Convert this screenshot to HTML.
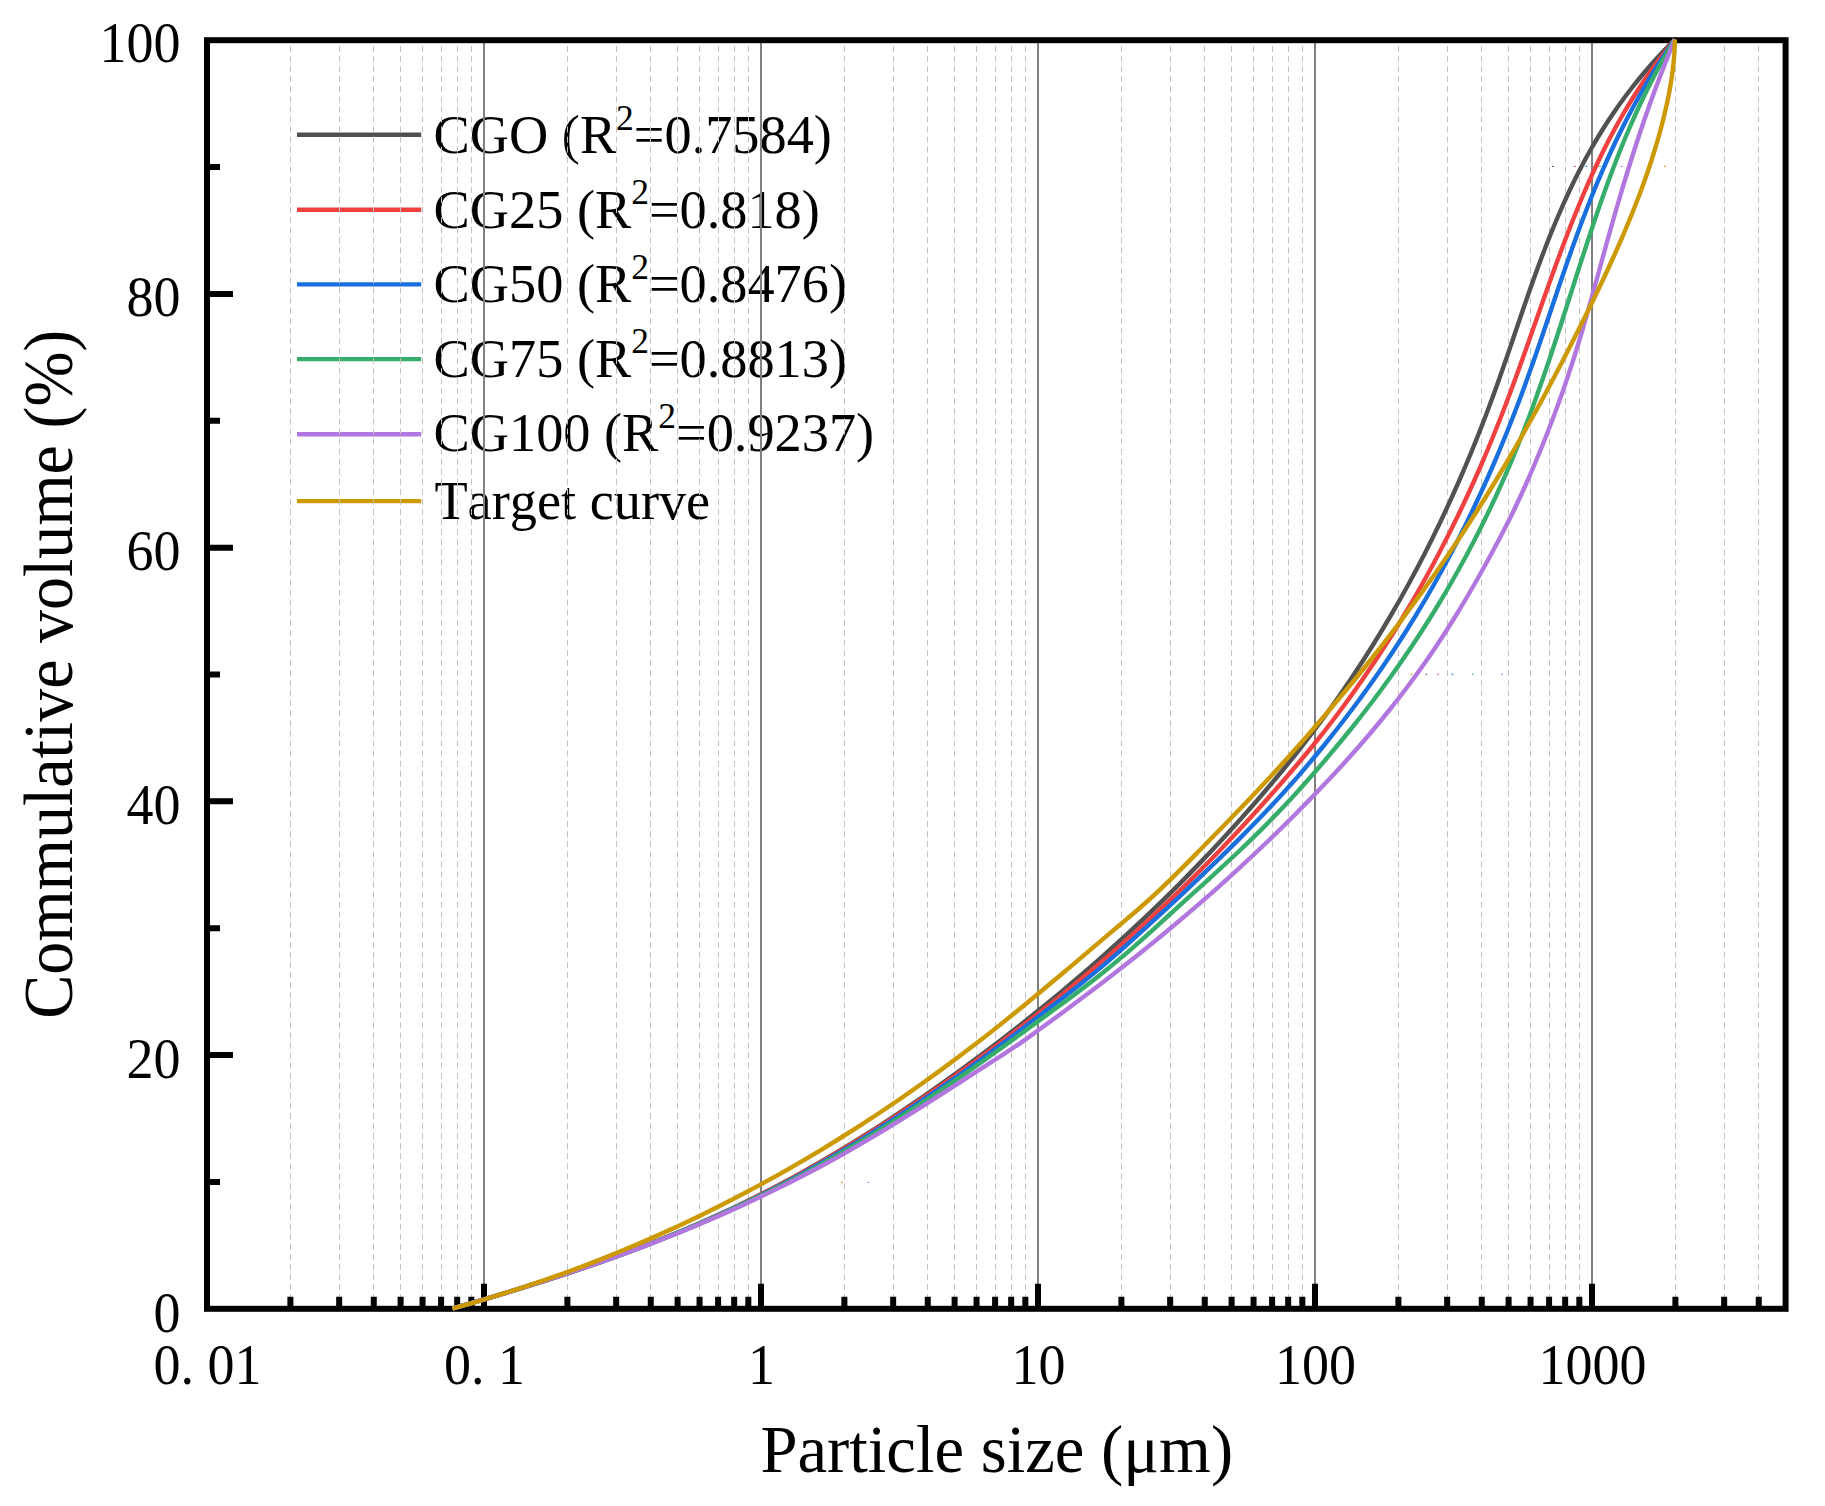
<!DOCTYPE html>
<html lang="en"><head><meta charset="utf-8"><title>Particle size distribution</title>
<style>html,body{margin:0;padding:0;background:#fff}svg{display:block}text{font-kerning:none;font-family:"Liberation Serif","Times New Roman",serif;fill:#000}</style></head><body>
<svg width="1825" height="1506" viewBox="0 0 1825 1506">
<rect width="1825" height="1506" fill="#fff"/>
<path d="M297 134.8H421.2" stroke="#515151" stroke-width="4.4" fill="none"/>
<text x="433.6" y="153.0" font-size="54.3">CGO (R<tspan dy="-23.5" font-size="35.5">2</tspan><tspan dy="23.5">=0.7584)</tspan></text>
<path d="M297 209.7H421.2" stroke="#F14040" stroke-width="4.4" fill="none"/>
<text x="433.6" y="227.5" font-size="54.3">CG25 (R<tspan dy="-23.5" font-size="35.5">2</tspan><tspan dy="23.5">=0.818)</tspan></text>
<path d="M297 284.4H421.2" stroke="#1A6FDF" stroke-width="4.4" fill="none"/>
<text x="433.6" y="302.0" font-size="54.3">CG50 (R<tspan dy="-23.5" font-size="35.5">2</tspan><tspan dy="23.5">=0.8476)</tspan></text>
<path d="M297 359.1H421.2" stroke="#37AD6B" stroke-width="4.4" fill="none"/>
<text x="433.6" y="376.5" font-size="54.3">CG75 (R<tspan dy="-23.5" font-size="35.5">2</tspan><tspan dy="23.5">=0.8813)</tspan></text>
<path d="M297 434.3H421.2" stroke="#B177DE" stroke-width="4.4" fill="none"/>
<text x="433.6" y="451.0" font-size="54.3">CG100 (R<tspan dy="-23.5" font-size="35.5">2</tspan><tspan dy="23.5">=0.9237)</tspan></text>
<path d="M297 501.1H421.2" stroke="#CC9900" stroke-width="4.4" fill="none"/>
<text x="434.4" y="519.1" font-size="54.3">Target curve</text>
<path d="M290.5 46V1308.8M339.5 46V1308.8M373.5 46V1308.8M400.5 46V1308.8M422.5 46V1308.8M441.5 46V1308.8M457.5 46V1308.8M471.5 46V1308.8M567.5 46V1308.8M616.5 46V1308.8M650.5 46V1308.8M677.5 46V1308.8M699.5 46V1308.8M718.5 46V1308.8M734.5 46V1308.8M748.5 46V1308.8M844.5 46V1308.8M893.5 46V1308.8M927.5 46V1308.8M954.5 46V1308.8M976.5 46V1308.8M995.5 46V1308.8M1011.5 46V1308.8M1025.5 46V1308.8M1121.5 46V1308.8M1170.5 46V1308.8M1204.5 46V1308.8M1231.5 46V1308.8M1253.5 46V1308.8M1272.5 46V1308.8M1288.5 46V1308.8M1302.5 46V1308.8M1398.5 46V1308.8M1447.5 46V1308.8M1481.5 46V1308.8M1508.5 46V1308.8M1530.5 46V1308.8M1549.5 46V1308.8M1565.5 46V1308.8M1579.5 46V1308.8M1675.5 46V1308.8M1724.5 46V1308.8M1758.5 46V1308.8" stroke="#c2c2c2" stroke-width="1" stroke-dasharray="6 4.066" fill="none"/>
<path d="M484.00 40.2V1308.8M761.00 40.2V1308.8M1038.00 40.2V1308.8M1315.00 40.2V1308.8M1592.00 40.2V1308.8" stroke="#808080" stroke-width="2" fill="none"/>
<rect x="207.0" y="40.2" width="1578.6" height="1268.6" fill="none" stroke="#000" stroke-width="6.0"/>
<path d="M290.39 1308.8v-12M339.16 1308.8v-12M373.77 1308.8v-12M400.61 1308.8v-12M422.55 1308.8v-12M441.09 1308.8v-12M457.16 1308.8v-12M471.33 1308.8v-12M484.00 1308.8v-25M567.39 1308.8v-12M616.16 1308.8v-12M650.77 1308.8v-12M677.61 1308.8v-12M699.55 1308.8v-12M718.09 1308.8v-12M734.16 1308.8v-12M748.33 1308.8v-12M761.00 1308.8v-25M844.39 1308.8v-12M893.16 1308.8v-12M927.77 1308.8v-12M954.61 1308.8v-12M976.55 1308.8v-12M995.09 1308.8v-12M1011.16 1308.8v-12M1025.33 1308.8v-12M1038.00 1308.8v-25M1121.39 1308.8v-12M1170.16 1308.8v-12M1204.77 1308.8v-12M1231.61 1308.8v-12M1253.55 1308.8v-12M1272.09 1308.8v-12M1288.16 1308.8v-12M1302.33 1308.8v-12M1315.00 1308.8v-25M1398.39 1308.8v-12M1447.16 1308.8v-12M1481.77 1308.8v-12M1508.61 1308.8v-12M1530.55 1308.8v-12M1549.09 1308.8v-12M1565.16 1308.8v-12M1579.33 1308.8v-12M1592.00 1308.8v-25M1675.39 1308.8v-12M1724.16 1308.8v-12M1758.77 1308.8v-12M207.0 1181.94h13.0M207.0 1055.08h26.0M207.0 928.22h13.0M207.0 801.36h26.0M207.0 674.50h13.0M207.0 547.64h26.0M207.0 420.78h13.0M207.0 293.92h26.0M207.0 167.06h13.0" stroke="#000" stroke-width="6.0" fill="none"/>
<path d="M452.50 1308.50C455.00 1307.78 456.90 1307.23 460.00 1306.33C465.06 1304.86 473.34 1302.46 480.00 1300.49C486.67 1298.52 493.34 1296.54 500.00 1294.53C506.67 1292.52 513.34 1290.50 520.00 1288.45C526.67 1286.39 533.34 1284.31 540.00 1282.20C546.67 1280.08 553.34 1277.94 560.00 1275.76C566.67 1273.57 573.34 1271.36 580.00 1269.10C586.67 1266.84 593.34 1264.54 600.00 1262.20C606.67 1259.85 613.34 1257.46 620.00 1255.02C626.67 1252.57 633.34 1250.08 640.00 1247.54C646.68 1244.99 653.34 1242.39 660.00 1239.73C666.68 1237.06 673.34 1234.34 680.00 1231.56C686.68 1228.77 693.35 1225.92 700.00 1223.01C706.68 1220.09 713.35 1217.10 720.00 1214.05C726.68 1210.98 733.35 1207.86 740.00 1204.65C746.68 1201.43 753.35 1198.13 760.00 1194.77C766.68 1191.39 773.35 1187.94 780.00 1184.41C786.68 1180.87 793.35 1177.25 800.00 1173.56C806.68 1169.86 813.35 1166.08 820.00 1162.24C826.68 1158.38 833.35 1154.45 840.00 1150.45C846.68 1146.43 853.35 1142.35 860.00 1138.20C866.68 1134.03 873.35 1129.80 880.00 1125.51C886.68 1121.20 893.35 1116.82 900.00 1112.39C906.68 1107.93 913.35 1103.41 920.00 1098.84C926.68 1094.24 933.35 1089.59 940.00 1084.88C946.68 1080.15 953.35 1075.37 960.00 1070.53C966.68 1065.67 973.35 1060.75 980.00 1055.78C986.68 1050.79 993.35 1045.74 1000.00 1040.65C1006.68 1035.53 1013.35 1030.37 1020.00 1025.14C1026.68 1019.89 1033.35 1014.59 1040.00 1009.22C1046.69 1003.82 1053.35 998.37 1060.00 992.85C1066.69 987.30 1073.35 981.68 1080.00 976.00C1086.69 970.28 1093.36 964.49 1100.00 958.63C1106.69 952.73 1113.36 946.77 1120.00 940.72C1126.69 934.63 1133.36 928.46 1140.00 922.22C1146.69 915.93 1153.36 909.56 1160.00 903.11C1166.69 896.60 1173.36 890.01 1180.00 883.34C1186.70 876.61 1193.36 869.79 1200.00 862.89C1206.70 855.93 1213.38 848.86 1220.00 841.73C1226.65 834.56 1234.52 825.87 1239.80 820.00C1243.36 816.04 1245.73 813.34 1248.67 810.00C1251.60 806.67 1254.51 803.34 1257.41 800.00C1260.30 796.67 1263.17 793.34 1266.02 790.00C1268.86 786.67 1271.68 783.34 1274.48 780.00C1277.27 776.67 1280.05 773.34 1282.81 770.00C1285.55 766.67 1288.28 763.34 1290.98 760.00C1293.67 756.67 1296.34 753.34 1298.99 750.00C1301.63 746.67 1304.24 743.34 1306.83 740.00C1309.41 736.67 1311.97 733.34 1314.50 730.00C1317.02 726.67 1319.52 723.34 1321.99 720.00C1324.45 716.67 1326.88 713.34 1329.29 710.00C1331.69 706.67 1334.07 703.34 1336.42 700.00C1338.76 696.67 1340.85 693.68 1343.38 690.00C1346.46 685.51 1350.21 680.01 1353.55 675.00C1356.88 670.01 1360.15 665.01 1363.39 660.00C1366.61 655.01 1369.79 650.01 1372.92 645.00C1376.04 640.01 1379.12 635.01 1382.15 630.00C1385.17 625.01 1388.15 620.01 1391.08 615.00C1394.00 610.01 1396.87 605.01 1399.71 600.00C1402.54 595.01 1405.32 590.01 1408.07 585.00C1410.81 580.01 1413.50 575.01 1416.16 570.00C1418.81 565.01 1421.42 560.01 1423.99 555.00C1426.55 550.01 1429.07 545.01 1431.56 540.00C1434.04 535.01 1436.48 530.01 1438.89 525.00C1441.29 520.01 1443.65 515.01 1445.98 510.00C1448.30 505.01 1450.59 500.01 1452.84 495.00C1455.09 490.01 1457.30 485.01 1459.48 480.00C1461.66 475.01 1463.81 470.01 1465.92 465.00C1468.03 460.01 1470.10 455.01 1472.15 450.00C1474.19 445.01 1476.20 440.01 1478.19 435.00C1480.17 430.01 1482.12 425.01 1484.05 420.00C1485.97 415.01 1488.36 408.66 1489.73 405.00C1490.52 402.89 1490.84 402.03 1491.58 400.00C1492.73 396.86 1494.52 392.00 1495.96 388.00C1497.40 384.00 1498.83 380.00 1500.24 376.00C1501.65 372.00 1503.05 368.00 1504.44 364.00C1505.83 360.00 1507.20 356.00 1508.57 352.00C1509.94 348.00 1511.31 344.00 1512.67 340.00C1514.03 336.00 1515.38 332.00 1516.74 328.00C1518.10 324.00 1519.46 320.00 1520.82 316.00C1522.19 312.00 1523.55 308.00 1524.93 304.00C1526.31 300.00 1527.70 296.00 1529.10 292.00C1530.50 288.00 1531.91 284.00 1533.34 280.00C1534.77 276.00 1536.21 272.00 1537.67 268.00C1539.14 264.00 1540.62 260.00 1542.13 256.00C1543.64 252.00 1545.17 248.00 1546.73 244.00C1548.29 240.00 1549.88 235.99 1551.50 232.00C1553.12 227.99 1554.77 223.99 1556.46 220.00C1558.15 215.99 1559.87 211.99 1561.63 208.00C1563.40 203.99 1565.20 199.99 1567.04 196.00C1568.89 191.99 1570.77 187.99 1572.70 184.00C1574.64 179.99 1576.63 175.99 1578.66 172.00C1580.71 167.99 1582.79 163.99 1584.94 160.00C1587.10 155.99 1589.32 151.99 1591.60 148.00C1593.89 143.99 1596.23 139.98 1598.65 136.00C1601.09 131.98 1603.59 127.98 1606.16 124.00C1608.75 119.98 1611.41 115.98 1614.14 112.00C1616.90 107.98 1619.74 103.98 1622.65 100.00C1625.60 95.98 1628.62 91.98 1631.72 88.00C1634.86 83.98 1638.08 79.97 1641.39 76.00C1644.74 71.97 1648.18 67.97 1651.70 64.00C1655.27 59.97 1658.94 55.97 1662.69 52.00C1666.50 47.97 1673.05 41.35 1674.39 40.00C1674.66 39.72 1674.72 39.67 1674.89 39.50" stroke="#515151" stroke-width="4.4" fill="none" stroke-linejoin="round"/>
<path d="M452.50 1308.50C455.00 1307.78 456.90 1307.24 460.00 1306.35C465.06 1304.89 473.34 1302.49 480.00 1300.54C486.67 1298.58 493.34 1296.62 500.00 1294.62C506.67 1292.62 513.34 1290.60 520.00 1288.55C526.67 1286.50 533.34 1284.42 540.00 1282.31C546.67 1280.20 553.34 1278.06 560.00 1275.88C566.67 1273.70 573.34 1271.49 580.00 1269.23C586.67 1266.97 593.34 1264.67 600.00 1262.33C606.67 1259.98 613.34 1257.59 620.00 1255.15C626.67 1252.70 633.34 1250.21 640.00 1247.67C646.68 1245.12 653.34 1242.53 660.00 1239.87C666.68 1237.21 673.34 1234.49 680.00 1231.71C686.68 1228.92 693.35 1226.09 700.00 1223.18C706.68 1220.26 713.35 1217.29 720.00 1214.24C726.68 1211.18 733.35 1208.05 740.00 1204.86C746.68 1201.65 753.35 1198.38 760.00 1195.03C766.68 1191.67 773.35 1188.23 780.00 1184.72C786.68 1181.20 793.35 1177.60 800.00 1173.94C806.68 1170.26 813.35 1166.51 820.00 1162.70C826.68 1158.87 833.35 1154.97 840.00 1151.01C846.68 1147.03 853.35 1142.98 860.00 1138.88C866.68 1134.76 873.35 1130.58 880.00 1126.34C886.68 1122.08 893.35 1117.75 900.00 1113.38C906.68 1108.99 913.35 1104.53 920.00 1100.03C926.68 1095.51 933.35 1090.94 940.00 1086.31C946.68 1081.66 953.35 1076.96 960.00 1072.21C966.68 1067.44 973.35 1062.62 980.00 1057.75C986.68 1052.87 993.35 1047.94 1000.00 1042.96C1006.68 1037.96 1013.35 1032.92 1020.00 1027.82C1026.68 1022.70 1033.35 1017.53 1040.00 1012.30C1046.68 1007.05 1053.35 1001.75 1060.00 996.38C1066.69 990.98 1073.35 985.53 1080.00 980.01C1086.69 974.46 1093.35 968.85 1100.00 963.17C1106.69 957.45 1113.36 951.68 1120.00 945.82C1126.69 939.92 1133.36 933.95 1140.00 927.91C1146.69 921.82 1153.36 915.67 1160.00 909.43C1166.69 903.15 1173.36 896.78 1180.00 890.34C1186.69 883.84 1193.36 877.27 1200.00 870.60C1206.70 863.88 1213.36 857.07 1220.00 850.17C1226.70 843.21 1234.79 834.60 1240.00 829.02C1243.39 825.39 1245.49 823.09 1248.32 820.00C1251.29 816.76 1254.39 813.34 1257.40 810.00C1260.40 806.67 1263.39 803.34 1266.36 800.00C1269.32 796.67 1272.28 793.34 1275.21 790.00C1278.14 786.67 1281.05 783.34 1283.94 780.00C1286.82 776.67 1289.69 773.34 1292.54 770.00C1295.38 766.67 1298.20 763.34 1301.00 760.00C1303.79 756.67 1306.56 753.34 1309.30 750.00C1312.03 746.67 1314.75 743.34 1317.43 740.00C1320.10 736.67 1322.75 733.34 1325.37 730.00C1327.98 726.67 1330.56 723.34 1333.11 720.00C1335.65 716.67 1338.17 713.34 1340.66 710.00C1343.14 706.68 1345.58 703.34 1348.00 700.00C1350.41 696.67 1352.56 693.68 1355.16 690.00C1358.33 685.51 1362.19 680.01 1365.63 675.00C1369.05 670.01 1372.43 665.01 1375.76 660.00C1379.07 655.01 1382.34 650.01 1385.56 645.00C1388.77 640.01 1391.93 635.01 1395.05 630.00C1398.15 625.01 1401.21 620.01 1404.23 615.00C1407.24 610.01 1410.20 605.01 1413.12 600.00C1416.03 595.01 1418.89 590.01 1421.71 585.00C1424.52 580.01 1427.30 575.01 1430.03 570.00C1432.75 565.01 1435.43 560.01 1438.07 555.00C1440.70 550.01 1443.29 545.01 1445.85 540.00C1448.40 535.01 1450.91 530.01 1453.38 525.00C1455.84 520.01 1458.27 515.01 1460.66 510.00C1463.04 505.01 1465.40 500.01 1467.71 495.00C1470.02 490.01 1472.29 485.01 1474.53 480.00C1476.76 475.01 1478.96 470.01 1481.13 465.00C1483.29 460.01 1485.42 455.01 1487.52 450.00C1489.62 445.01 1491.68 440.01 1493.72 435.00C1495.75 430.01 1497.75 425.01 1499.72 420.00C1501.69 415.01 1504.13 408.66 1505.54 405.00C1506.35 402.89 1506.67 402.03 1507.44 400.00C1508.62 396.86 1510.45 392.00 1511.94 388.00C1513.42 384.00 1514.89 380.00 1516.35 376.00C1517.81 372.00 1519.25 368.00 1520.69 364.00C1522.13 360.00 1523.56 356.00 1524.98 352.00C1526.40 348.00 1527.82 344.00 1529.23 340.00C1530.64 336.00 1532.04 332.00 1533.45 328.00C1534.86 324.00 1536.26 320.00 1537.67 316.00C1539.08 312.00 1540.49 308.00 1541.90 304.00C1543.31 300.00 1544.72 296.00 1546.14 292.00C1547.56 288.00 1548.98 284.00 1550.42 280.00C1551.86 276.00 1553.30 272.00 1554.76 268.00C1556.22 264.00 1557.68 260.00 1559.16 256.00C1560.64 252.00 1562.14 248.00 1563.65 244.00C1565.16 240.00 1566.68 236.00 1568.23 232.00C1569.78 228.00 1571.34 224.00 1572.93 220.00C1574.52 216.00 1576.13 212.00 1577.76 208.00C1579.40 204.00 1581.05 199.99 1582.74 196.00C1584.43 191.99 1586.16 187.99 1587.91 184.00C1589.67 179.99 1591.45 175.99 1593.28 172.00C1595.12 167.99 1596.99 163.99 1598.90 160.00C1600.82 155.99 1602.78 151.99 1604.79 148.00C1606.81 143.99 1608.86 139.99 1610.97 136.00C1613.09 131.99 1615.25 127.99 1617.47 124.00C1619.70 119.99 1621.99 115.99 1624.33 112.00C1626.69 107.99 1629.10 103.98 1631.57 100.00C1634.06 95.98 1636.61 91.98 1639.22 88.00C1641.85 83.98 1644.55 79.98 1647.31 76.00C1650.10 71.98 1652.94 67.98 1655.86 64.00C1658.81 59.98 1661.82 55.98 1664.91 52.00C1668.03 47.98 1673.37 41.35 1674.48 40.00C1674.71 39.72 1674.76 39.67 1674.90 39.50" stroke="#F14040" stroke-width="4.4" fill="none" stroke-linejoin="round"/>
<path d="M452.50 1308.50C455.00 1307.78 456.90 1307.23 460.00 1306.33C465.06 1304.86 473.34 1302.45 480.00 1300.49C486.67 1298.52 493.34 1296.54 500.00 1294.54C506.67 1292.53 513.34 1290.51 520.00 1288.46C526.67 1286.41 533.34 1284.33 540.00 1282.22C546.67 1280.11 553.34 1277.97 560.00 1275.79C566.67 1273.61 573.34 1271.40 580.00 1269.15C586.67 1266.90 593.34 1264.61 600.00 1262.28C606.67 1259.94 613.34 1257.57 620.00 1255.14C626.67 1252.71 633.34 1250.23 640.00 1247.71C646.68 1245.18 653.34 1242.60 660.00 1239.97C666.68 1237.33 673.34 1234.63 680.00 1231.88C686.68 1229.12 693.35 1226.31 700.00 1223.43C706.68 1220.54 713.35 1217.60 720.00 1214.59C726.68 1211.57 733.35 1208.48 740.00 1205.33C746.68 1202.16 753.35 1198.93 760.00 1195.63C766.68 1192.31 773.35 1188.92 780.00 1185.46C786.68 1181.99 793.35 1178.44 800.00 1174.83C806.68 1171.20 813.35 1167.51 820.00 1163.75C826.68 1159.97 833.35 1156.13 840.00 1152.22C846.68 1148.30 853.35 1144.31 860.00 1140.26C866.68 1136.19 873.35 1132.07 880.00 1127.88C886.68 1123.68 893.35 1119.41 900.00 1115.09C906.68 1110.75 913.35 1106.35 920.00 1101.91C926.68 1097.45 933.35 1092.95 940.00 1088.40C946.68 1083.83 953.35 1079.23 960.00 1074.56C966.68 1069.87 973.35 1065.13 980.00 1060.32C986.68 1055.49 993.35 1050.59 1000.00 1045.64C1006.68 1040.67 1013.34 1035.60 1020.00 1030.55C1026.67 1025.49 1033.33 1020.39 1040.00 1015.30C1046.67 1010.21 1053.35 1005.16 1060.00 1000.02C1066.68 994.86 1073.36 989.71 1080.00 984.42C1086.69 979.09 1093.37 973.71 1100.00 968.16C1106.71 962.54 1113.36 956.74 1120.00 950.89C1126.70 944.98 1133.34 938.90 1140.00 932.86C1146.68 926.80 1153.34 920.72 1160.00 914.59C1166.68 908.44 1173.35 902.27 1180.00 896.04C1186.68 889.79 1193.35 883.50 1200.00 877.15C1206.68 870.77 1213.35 864.35 1220.00 857.86C1226.69 851.33 1233.55 844.57 1240.00 838.11C1246.13 831.97 1252.80 825.16 1257.81 820.00C1261.51 816.19 1264.22 813.34 1267.38 810.00C1270.53 806.67 1273.66 803.34 1276.75 800.00C1279.83 796.68 1282.87 793.34 1285.89 790.00C1288.89 786.68 1291.85 783.34 1294.79 780.00C1297.71 776.68 1300.61 773.34 1303.47 770.00C1306.32 766.68 1309.14 763.34 1311.93 760.00C1314.71 756.67 1317.47 753.34 1320.20 750.00C1322.92 746.67 1325.61 743.34 1328.28 740.00C1330.94 736.67 1333.59 733.34 1336.21 730.00C1338.82 726.67 1341.41 723.34 1343.98 720.00C1346.54 716.67 1349.07 713.34 1351.59 710.00C1354.10 706.67 1356.59 703.34 1359.05 700.00C1361.50 696.67 1363.69 693.68 1366.33 690.00C1369.55 685.51 1373.47 680.01 1376.96 675.00C1380.44 670.01 1383.86 665.01 1387.24 660.00C1390.60 655.01 1393.92 650.01 1397.18 645.00C1400.43 640.01 1403.63 635.01 1406.78 630.00C1409.92 625.01 1413.01 620.01 1416.06 615.00C1419.09 610.01 1422.09 605.01 1425.03 600.00C1427.96 595.01 1430.85 590.01 1433.69 585.00C1436.52 580.01 1439.31 575.01 1442.06 570.00C1444.80 565.01 1447.50 560.01 1450.15 555.00C1452.79 550.01 1455.40 545.01 1457.96 540.00C1460.52 535.01 1463.03 530.01 1465.51 525.00C1467.98 520.01 1470.41 515.01 1472.80 510.00C1475.19 505.01 1477.54 500.01 1479.85 495.00C1482.16 490.01 1484.43 485.01 1486.67 480.00C1488.90 475.01 1491.10 470.01 1493.26 465.00C1495.42 460.01 1497.54 455.01 1499.63 450.00C1501.72 445.01 1503.77 440.01 1505.80 435.00C1507.82 430.01 1509.82 425.01 1511.78 420.00C1513.74 415.01 1516.16 408.66 1517.56 405.00C1518.37 402.89 1518.69 402.03 1519.45 400.00C1520.63 396.86 1522.44 392.00 1523.91 388.00C1525.38 384.00 1526.82 380.00 1528.26 376.00C1529.69 372.00 1531.11 368.00 1532.52 364.00C1533.93 360.00 1535.32 356.00 1536.70 352.00C1538.08 348.00 1539.45 344.00 1540.82 340.00C1542.19 336.00 1543.54 332.00 1544.90 328.00C1546.26 324.00 1547.61 320.00 1548.96 316.00C1550.31 312.00 1551.65 308.00 1553.00 304.00C1554.35 300.00 1555.70 296.00 1557.06 292.00C1558.42 288.00 1559.77 284.00 1561.14 280.00C1562.51 276.00 1563.88 272.00 1565.26 268.00C1566.64 264.00 1568.03 260.00 1569.44 256.00C1570.85 252.00 1572.26 248.00 1573.70 244.00C1575.14 240.00 1576.59 236.00 1578.06 232.00C1579.53 228.00 1581.01 224.00 1582.52 220.00C1584.03 216.00 1585.56 212.00 1587.12 208.00C1588.68 204.00 1590.26 200.00 1591.86 196.00C1593.47 192.00 1595.10 187.99 1596.76 184.00C1598.43 179.99 1600.12 175.99 1601.85 172.00C1603.58 167.99 1605.34 163.99 1607.13 160.00C1608.93 155.99 1610.75 151.99 1612.62 148.00C1614.49 143.99 1616.40 139.99 1618.35 136.00C1620.30 131.99 1622.29 127.99 1624.32 124.00C1626.36 119.99 1628.44 115.99 1630.56 112.00C1632.69 107.99 1634.87 103.99 1637.09 100.00C1639.32 95.99 1641.59 91.99 1643.91 88.00C1646.24 83.99 1648.62 79.99 1651.05 76.00C1653.49 71.99 1655.98 67.99 1658.52 64.00C1661.08 59.99 1663.69 55.99 1666.35 52.00C1669.03 47.99 1673.60 41.36 1674.54 40.00C1674.73 39.72 1674.77 39.67 1674.89 39.50" stroke="#1A6FDF" stroke-width="4.4" fill="none" stroke-linejoin="round"/>
<path d="M452.50 1308.50C455.00 1307.79 456.90 1307.26 460.00 1306.37C465.06 1304.92 473.34 1302.55 480.00 1300.61C486.67 1298.67 493.34 1296.70 500.00 1294.71C506.67 1292.71 513.34 1290.69 520.00 1288.64C526.67 1286.59 533.34 1284.51 540.00 1282.39C546.67 1280.27 553.34 1278.12 560.00 1275.93C566.67 1273.74 573.34 1271.52 580.00 1269.26C586.67 1266.99 593.34 1264.69 600.00 1262.34C606.67 1259.99 613.34 1257.60 620.00 1255.16C626.67 1252.72 633.34 1250.24 640.00 1247.71C646.67 1245.17 653.34 1242.59 660.00 1239.96C666.68 1237.32 673.34 1234.64 680.00 1231.90C686.68 1229.15 693.34 1226.35 700.00 1223.50C706.68 1220.64 713.35 1217.72 720.00 1214.75C726.68 1211.76 733.35 1208.72 740.00 1205.62C746.68 1202.51 753.35 1199.34 760.00 1196.11C766.68 1192.86 773.35 1189.55 780.00 1186.18C786.68 1182.79 793.35 1179.35 800.00 1175.83C806.68 1172.30 813.35 1168.70 820.00 1165.03C826.68 1161.34 833.35 1157.59 840.00 1153.76C846.68 1149.91 853.35 1145.99 860.00 1142.01C866.68 1138.01 873.35 1133.94 880.00 1129.81C886.68 1125.66 893.35 1121.44 900.00 1117.18C906.68 1112.90 913.35 1108.56 920.00 1104.17C926.68 1099.77 933.34 1095.31 940.00 1090.81C946.68 1086.30 953.34 1081.74 960.00 1077.15C966.68 1072.54 973.35 1067.90 980.00 1063.21C986.68 1058.51 993.34 1053.75 1000.00 1048.97C1006.68 1044.17 1013.34 1039.31 1020.00 1034.47C1026.67 1029.62 1033.33 1024.75 1040.00 1019.89C1046.67 1015.03 1053.34 1010.19 1060.00 1005.29C1066.68 1000.37 1073.36 995.46 1080.00 990.43C1086.69 985.36 1093.37 980.26 1100.00 975.00C1106.70 969.68 1113.38 964.26 1120.00 958.69C1126.71 953.05 1133.36 947.22 1140.00 941.35C1146.69 935.44 1153.34 929.37 1160.00 923.35C1166.67 917.31 1173.33 911.20 1180.00 905.16C1186.66 899.13 1193.34 893.15 1200.00 887.12C1206.67 881.08 1213.35 875.07 1220.00 868.95C1226.69 862.79 1233.37 856.60 1240.00 850.28C1246.70 843.90 1254.38 836.40 1260.00 830.84C1264.16 826.72 1267.28 823.55 1270.76 820.00C1274.08 816.61 1277.24 813.34 1280.43 810.00C1283.60 806.68 1286.73 803.34 1289.83 800.00C1292.91 796.68 1295.97 793.34 1298.99 790.00C1302.00 786.68 1304.97 783.34 1307.92 780.00C1310.86 776.67 1313.77 773.34 1316.66 770.00C1319.54 766.67 1322.39 763.34 1325.23 760.00C1328.05 756.67 1330.85 753.34 1333.64 750.00C1336.42 746.67 1339.19 743.34 1341.93 740.00C1344.66 736.67 1347.38 733.34 1350.07 730.00C1352.76 726.67 1355.42 723.34 1358.07 720.00C1360.70 716.67 1363.32 713.34 1365.91 710.00C1368.49 706.67 1371.03 703.34 1373.56 700.00C1376.07 696.67 1378.32 693.68 1381.03 690.00C1384.33 685.52 1388.34 680.01 1391.92 675.00C1395.48 670.01 1399.00 665.01 1402.46 660.00C1405.90 655.01 1409.29 650.01 1412.63 645.00C1415.95 640.01 1419.23 635.01 1422.45 630.00C1425.66 625.01 1428.82 620.01 1431.93 615.00C1435.03 610.01 1438.08 605.01 1441.08 600.00C1444.07 595.01 1447.02 590.01 1449.91 585.00C1452.79 580.01 1455.62 575.01 1458.41 570.00C1461.19 565.01 1463.92 560.01 1466.61 555.00C1469.29 550.01 1471.92 545.01 1474.51 540.00C1477.09 535.01 1479.63 530.01 1482.12 525.00C1484.60 520.01 1487.04 515.01 1489.44 510.00C1491.83 505.01 1494.18 500.01 1496.49 495.00C1498.79 490.01 1501.04 485.01 1503.26 480.00C1505.47 475.01 1507.65 470.01 1509.78 465.00C1511.91 460.01 1514.00 455.01 1516.05 450.00C1518.10 445.01 1520.10 440.01 1522.07 435.00C1524.04 430.01 1525.96 425.01 1527.86 420.00C1529.75 415.01 1532.10 408.66 1533.45 405.00C1534.23 402.89 1534.54 402.03 1535.27 400.00C1536.40 396.86 1538.15 392.00 1539.56 388.00C1540.97 384.00 1542.36 380.00 1543.74 376.00C1545.12 372.00 1546.48 368.00 1547.84 364.00C1549.19 360.00 1550.54 356.00 1551.87 352.00C1553.20 348.00 1554.52 344.00 1555.83 340.00C1557.14 336.00 1558.45 332.00 1559.75 328.00C1561.05 324.00 1562.33 320.00 1563.62 316.00C1564.91 312.00 1566.19 308.00 1567.47 304.00C1568.75 300.00 1570.03 296.00 1571.31 292.00C1572.59 288.00 1573.86 284.00 1575.14 280.00C1576.42 276.00 1577.70 272.00 1578.99 268.00C1580.28 264.00 1581.57 260.00 1582.87 256.00C1584.17 252.00 1585.47 248.00 1586.78 244.00C1588.09 240.00 1589.41 236.00 1590.74 232.00C1592.07 228.00 1593.41 224.00 1594.76 220.00C1596.11 216.00 1597.48 212.00 1598.86 208.00C1600.24 204.00 1601.64 200.00 1603.05 196.00C1604.47 192.00 1605.89 188.00 1607.35 184.00C1608.81 180.00 1610.29 176.00 1611.79 172.00C1613.29 168.00 1614.82 164.00 1616.37 160.00C1617.93 156.00 1619.51 151.99 1621.12 148.00C1622.74 143.99 1624.37 139.99 1626.05 136.00C1627.73 131.99 1629.45 127.99 1631.20 124.00C1632.96 119.99 1634.74 115.99 1636.57 112.00C1638.40 107.99 1640.27 103.99 1642.18 100.00C1644.10 95.99 1646.06 91.99 1648.06 88.00C1650.07 83.99 1652.12 79.99 1654.22 76.00C1656.33 71.99 1658.48 67.99 1660.68 64.00C1662.89 59.99 1665.16 55.99 1667.47 52.00C1669.79 47.99 1673.78 41.36 1674.59 40.00C1674.76 39.72 1674.79 39.67 1674.89 39.50" stroke="#37AD6B" stroke-width="4.4" fill="none" stroke-linejoin="round"/>
<path d="M452.50 1308.50C455.00 1307.79 456.90 1307.25 460.00 1306.36C465.06 1304.91 473.34 1302.53 480.00 1300.58C486.67 1298.63 493.34 1296.66 500.00 1294.66C506.67 1292.66 513.34 1290.64 520.00 1288.58C526.67 1286.52 533.34 1284.44 540.00 1282.32C546.67 1280.20 553.34 1278.06 560.00 1275.88C566.67 1273.70 573.34 1271.48 580.00 1269.23C586.67 1266.97 593.34 1264.68 600.00 1262.35C606.67 1260.01 613.34 1257.64 620.00 1255.23C626.67 1252.81 633.34 1250.35 640.00 1247.85C646.67 1245.34 653.34 1242.79 660.00 1240.19C666.68 1237.58 673.34 1234.93 680.00 1232.23C686.68 1229.52 693.34 1226.77 700.00 1223.96C706.68 1221.14 713.34 1218.28 720.00 1215.36C726.68 1212.43 733.34 1209.45 740.00 1206.41C746.68 1203.36 753.35 1200.25 760.00 1197.09C766.68 1193.91 773.35 1190.68 780.00 1187.39C786.68 1184.08 793.35 1180.72 800.00 1177.29C806.68 1173.85 813.35 1170.34 820.00 1166.77C826.68 1163.18 833.35 1159.54 840.00 1155.82C846.68 1152.08 853.35 1148.27 860.00 1144.41C866.68 1140.53 873.35 1136.59 880.00 1132.60C886.68 1128.59 893.34 1124.52 900.00 1120.42C906.68 1116.30 913.34 1112.14 920.00 1107.94C926.68 1103.73 933.34 1099.48 940.00 1095.21C946.67 1090.93 953.34 1086.61 960.00 1082.29C966.67 1077.97 973.33 1073.61 980.00 1069.31C986.66 1065.02 993.35 1060.82 1000.00 1056.50C1006.68 1052.16 1013.38 1047.88 1020.00 1043.34C1026.71 1038.74 1033.35 1033.88 1040.00 1029.08C1046.68 1024.25 1053.34 1019.36 1060.00 1014.45C1066.68 1009.53 1073.34 1004.58 1080.00 999.59C1086.68 994.58 1093.35 989.53 1100.00 984.44C1106.68 979.33 1113.35 974.17 1120.00 968.97C1126.68 963.74 1133.35 958.48 1140.00 953.15C1146.68 947.80 1153.35 942.40 1160.00 936.94C1166.68 931.45 1173.35 925.92 1180.00 920.31C1186.69 914.67 1193.35 908.98 1200.00 903.21C1206.69 897.41 1213.36 891.54 1220.00 885.61C1226.69 879.64 1233.36 873.60 1240.00 867.48C1246.69 861.32 1253.36 855.09 1260.00 848.78C1266.69 842.42 1274.56 834.78 1280.00 829.46C1283.78 825.76 1286.36 823.20 1289.57 820.00C1292.86 816.72 1296.22 813.34 1299.52 810.00C1302.80 806.67 1306.06 803.34 1309.31 800.00C1312.54 796.67 1315.76 793.34 1318.96 790.00C1322.14 786.67 1325.31 783.34 1328.45 780.00C1331.58 776.67 1334.69 773.34 1337.77 770.00C1340.84 766.67 1343.88 763.34 1346.90 760.00C1349.90 756.67 1352.88 753.34 1355.83 750.00C1358.76 746.68 1361.66 743.34 1364.54 740.00C1367.40 736.67 1370.24 733.34 1373.05 730.00C1375.84 726.68 1378.60 723.34 1381.34 720.00C1384.06 716.67 1386.76 713.34 1389.43 710.00C1392.09 706.67 1394.72 703.34 1397.32 700.00C1399.91 696.67 1402.23 693.68 1405.01 690.00C1408.40 685.52 1412.51 680.02 1416.16 675.00C1419.78 670.02 1423.33 665.02 1426.82 660.00C1430.29 655.02 1433.69 650.02 1437.03 645.00C1440.35 640.02 1443.60 635.01 1446.81 630.00C1450.00 625.01 1453.13 620.01 1456.21 615.00C1459.28 610.01 1462.29 605.01 1465.26 600.00C1468.22 595.01 1471.13 590.01 1474.01 585.00C1476.87 580.01 1479.69 575.01 1482.48 570.00C1485.26 565.01 1488.00 560.01 1490.72 555.00C1493.43 550.01 1496.12 545.01 1498.76 540.00C1501.40 535.01 1504.01 530.01 1506.56 525.00C1509.10 520.01 1511.58 515.01 1514.01 510.00C1516.42 505.01 1518.77 500.01 1521.08 495.00C1523.38 490.01 1525.62 485.01 1527.83 480.00C1530.03 475.01 1532.18 470.01 1534.30 465.00C1536.42 460.01 1538.50 455.01 1540.54 450.00C1542.58 445.01 1544.57 440.01 1546.54 435.00C1548.50 430.01 1550.43 425.01 1552.32 420.00C1554.21 415.01 1556.54 408.66 1557.88 405.00C1558.65 402.89 1558.96 402.03 1559.68 400.00C1560.80 396.86 1562.52 392.00 1563.91 388.00C1565.30 384.00 1566.66 380.00 1568.00 376.00C1569.34 372.00 1570.65 368.00 1571.95 364.00C1573.24 360.00 1574.52 356.00 1575.77 352.00C1577.02 348.00 1578.24 344.00 1579.45 340.00C1580.66 336.00 1581.84 332.00 1583.02 328.00C1584.19 324.00 1585.35 320.00 1586.50 316.00C1587.65 312.00 1588.78 308.00 1589.90 304.00C1591.02 300.00 1592.13 296.00 1593.24 292.00C1594.35 288.00 1595.45 284.00 1596.55 280.00C1597.65 276.00 1598.75 272.00 1599.85 268.00C1600.95 264.00 1602.04 260.00 1603.14 256.00C1604.24 252.00 1605.34 248.00 1606.45 244.00C1607.56 240.00 1608.69 236.00 1609.81 232.00C1610.94 228.00 1612.06 224.00 1613.20 220.00C1614.34 216.00 1615.49 212.00 1616.65 208.00C1617.81 204.00 1618.98 200.00 1620.16 196.00C1621.34 192.00 1622.53 188.00 1623.74 184.00C1624.95 180.00 1626.17 176.00 1627.40 172.00C1628.63 168.00 1629.88 164.00 1631.14 160.00C1632.40 156.00 1633.67 152.00 1634.96 148.00C1636.25 144.00 1637.56 140.00 1638.89 136.00C1640.22 132.00 1641.56 128.00 1642.92 124.00C1644.28 120.00 1645.66 116.00 1647.06 112.00C1648.46 108.00 1649.88 104.00 1651.32 100.00C1652.76 96.00 1654.22 92.00 1655.71 88.00C1657.20 84.00 1658.71 80.00 1660.24 76.00C1661.77 72.00 1663.32 68.00 1664.90 64.00C1666.48 60.00 1668.09 56.00 1669.72 52.00C1671.35 48.00 1674.12 41.36 1674.69 40.00C1674.81 39.72 1674.83 39.67 1674.90 39.50" stroke="#B177DE" stroke-width="4.4" fill="none" stroke-linejoin="round"/>
<path d="M452.50 1308.50C455.00 1307.81 456.90 1307.31 460.00 1306.44C465.07 1305.02 473.34 1302.69 480.00 1300.74C486.67 1298.78 493.34 1296.78 500.00 1294.72C506.67 1292.66 513.34 1290.54 520.00 1288.37C526.67 1286.20 533.34 1283.98 540.00 1281.70C546.68 1279.42 553.34 1277.07 560.00 1274.68C566.68 1272.28 573.34 1269.83 580.00 1267.32C586.68 1264.81 593.34 1262.24 600.00 1259.62C606.68 1256.99 613.34 1254.30 620.00 1251.56C626.68 1248.81 633.34 1246.00 640.00 1243.14C646.68 1240.27 653.35 1237.35 660.00 1234.37C666.68 1231.38 673.34 1228.32 680.00 1225.22C686.68 1222.10 693.35 1218.94 700.00 1215.71C706.68 1212.47 713.35 1209.17 720.00 1205.82C726.68 1202.45 733.35 1199.02 740.00 1195.54C746.68 1192.04 753.35 1188.49 760.00 1184.88C766.68 1181.25 773.35 1177.56 780.00 1173.82C786.68 1170.06 793.35 1166.24 800.00 1162.37C806.68 1158.48 813.35 1154.53 820.00 1150.52C826.68 1146.49 833.35 1142.40 840.00 1138.25C846.68 1134.08 853.35 1129.86 860.00 1125.58C866.68 1121.28 873.35 1116.91 880.00 1112.49C886.68 1108.04 893.35 1103.54 900.00 1098.97C906.68 1094.38 913.35 1089.74 920.00 1085.03C926.68 1080.30 933.35 1075.50 940.00 1070.65C946.68 1065.77 953.35 1060.84 960.00 1055.84C966.68 1050.82 973.35 1045.74 980.00 1040.59C986.69 1035.42 993.35 1030.17 1000.00 1024.88C1006.68 1019.56 1013.35 1014.17 1020.00 1008.74C1026.68 1003.29 1033.34 997.78 1040.00 992.25C1046.68 986.70 1053.34 981.11 1060.00 975.51C1066.67 969.90 1073.34 964.25 1080.00 958.61C1086.67 952.97 1093.33 947.30 1100.00 941.66C1106.66 936.02 1113.34 930.41 1120.00 924.76C1126.67 919.11 1133.38 913.59 1140.00 907.77C1146.72 901.87 1153.39 895.81 1160.00 889.58C1166.72 883.25 1173.36 876.68 1180.00 870.10C1186.70 863.47 1193.34 856.69 1200.00 849.94C1206.68 843.17 1214.61 835.05 1220.00 829.52C1223.67 825.75 1226.13 823.21 1229.24 820.00C1232.42 816.71 1235.68 813.34 1238.89 810.00C1242.09 806.67 1245.29 803.34 1248.47 800.00C1251.64 796.67 1254.80 793.34 1257.95 790.00C1261.09 786.67 1264.22 783.34 1267.33 780.00C1270.43 776.67 1273.51 773.34 1276.58 770.00C1279.64 766.67 1282.68 763.34 1285.70 760.00C1288.71 756.67 1291.71 753.34 1294.69 750.00C1297.66 746.67 1300.61 743.34 1303.55 740.00C1306.48 736.67 1309.39 733.34 1312.29 730.00C1315.18 726.67 1318.05 723.34 1320.91 720.00C1323.76 716.67 1326.60 713.34 1329.43 710.00C1332.25 706.67 1335.06 703.34 1337.85 700.00C1340.64 696.67 1343.14 693.68 1346.18 690.00C1349.89 685.51 1354.41 680.01 1358.47 675.00C1362.52 670.01 1366.54 665.01 1370.52 660.00C1374.49 655.01 1378.43 650.01 1382.33 645.00C1386.22 640.01 1390.07 635.01 1393.89 630.00C1397.70 625.01 1401.47 620.01 1405.21 615.00C1408.93 610.01 1412.62 605.01 1416.28 600.00C1419.92 595.01 1423.53 590.01 1427.11 585.00C1430.67 580.01 1434.20 575.01 1437.69 570.00C1441.17 565.01 1444.61 560.01 1448.02 555.00C1451.42 550.01 1454.78 545.01 1458.11 540.00C1461.43 535.01 1464.71 530.01 1467.96 525.00C1471.20 520.01 1474.41 515.01 1477.58 510.00C1480.74 505.01 1483.87 500.01 1486.97 495.00C1490.06 490.01 1493.12 485.01 1496.15 480.00C1499.17 475.01 1502.17 470.01 1505.13 465.00C1508.09 460.01 1511.01 455.01 1513.91 450.00C1516.80 445.01 1519.68 440.01 1522.52 435.00C1525.36 430.01 1528.17 425.01 1530.95 420.00C1533.73 415.01 1537.21 408.66 1539.21 405.00C1540.37 402.89 1540.83 402.03 1541.93 400.00C1543.63 396.86 1546.25 392.00 1548.39 388.00C1550.53 384.00 1552.65 380.00 1554.76 376.00C1556.87 372.00 1558.97 368.00 1561.05 364.00C1563.13 360.00 1565.19 356.00 1567.25 352.00C1569.30 348.00 1571.35 344.00 1573.38 340.00C1575.41 336.00 1577.43 332.00 1579.44 328.00C1581.45 324.00 1583.44 320.00 1585.42 316.00C1587.40 312.00 1589.37 308.00 1591.33 304.00C1593.28 300.00 1595.23 296.00 1597.15 292.00C1599.07 288.00 1600.98 284.00 1602.87 280.00C1604.75 276.00 1606.62 272.00 1608.47 268.00C1610.31 264.00 1612.14 260.00 1613.94 256.00C1615.74 252.00 1617.52 248.00 1619.27 244.00C1621.02 240.00 1622.75 236.01 1624.45 232.00C1626.15 228.01 1627.82 224.01 1629.46 220.00C1631.10 216.01 1632.71 212.01 1634.29 208.00C1635.87 204.01 1637.42 200.01 1638.94 196.00C1640.45 192.01 1641.93 188.01 1643.38 184.00C1644.82 180.01 1646.23 176.01 1647.60 172.00C1648.97 168.01 1650.30 164.01 1651.59 160.00C1652.88 156.01 1654.13 152.01 1655.34 148.00C1656.55 144.01 1657.72 140.01 1658.84 136.00C1659.96 132.01 1661.04 128.01 1662.07 124.00C1663.10 120.01 1664.08 116.01 1665.02 112.00C1665.95 108.01 1666.85 104.01 1667.68 100.00C1668.51 96.01 1669.29 92.01 1670.00 88.00C1670.71 84.01 1671.37 80.01 1671.94 76.00C1672.51 72.01 1673.02 68.00 1673.44 64.00C1673.86 60.00 1674.21 56.00 1674.45 52.00C1674.69 48.00 1674.87 41.36 1674.90 40.00C1674.91 39.72 1674.90 39.67 1674.90 39.50" stroke="#CC9900" stroke-width="4.4" fill="none" stroke-linejoin="round"/>
<rect x="1552.0" y="165.9" width="2" height="1" fill="#515151"/>
<rect x="1573.7" y="165.9" width="2" height="1" fill="#F14040"/>
<rect x="1585.4" y="165.9" width="2" height="1" fill="#1A6FDF"/>
<rect x="1598.9" y="165.9" width="2" height="1" fill="#37AD6B"/>
<rect x="1620.5" y="165.9" width="2" height="1" fill="#B177DE"/>
<rect x="1663.9" y="165.9" width="2" height="1" fill="#CC9900"/>
<rect x="1410.3" y="673.7" width="2" height="1" fill="#CC9900"/>
<rect x="1425.4" y="673.7" width="2" height="1" fill="#515151"/>
<rect x="1437.0" y="673.7" width="2" height="1" fill="#F14040"/>
<rect x="1451.4" y="673.7" width="2" height="1" fill="#1A6FDF"/>
<rect x="1471.8" y="673.7" width="2" height="1" fill="#37AD6B"/>
<rect x="1501.0" y="673.7" width="2" height="1" fill="#B177DE"/>
<rect x="841.0" y="1181.9" width="2" height="1" fill="#CC9900"/>
<rect x="867.4" y="1181.9" width="2" height="1" fill="#B177DE"/>
<text transform="translate(180.5 1332.1) scale(1 1.04)" font-size="54" text-anchor="end">0</text>
<text transform="translate(180.5 1078.1) scale(1 1.04)" font-size="54" text-anchor="end">20</text>
<text transform="translate(180.5 824.1) scale(1 1.04)" font-size="54" text-anchor="end">40</text>
<text transform="translate(180.5 570.0) scale(1 1.04)" font-size="54" text-anchor="end">60</text>
<text transform="translate(180.5 316.0) scale(1 1.04)" font-size="54" text-anchor="end">80</text>
<text transform="translate(180.5 62.0) scale(1 1.04)" font-size="54" text-anchor="end">100</text>
<text transform="translate(207.5 1384) scale(1 1.04)" font-size="54" text-anchor="middle">0. 01</text>
<text transform="translate(484.5 1384) scale(1 1.04)" font-size="54" text-anchor="middle">0. 1</text>
<text transform="translate(761.5 1384) scale(1 1.04)" font-size="54" text-anchor="middle">1</text>
<text transform="translate(1038.5 1384) scale(1 1.04)" font-size="54" text-anchor="middle">10</text>
<text transform="translate(1315.5 1384) scale(1 1.04)" font-size="54" text-anchor="middle">100</text>
<text transform="translate(1592.5 1384) scale(1 1.04)" font-size="54" text-anchor="middle">1000</text>
<text x="996.8" y="1471.8" font-size="66.7" text-anchor="middle">Particle size (μm)</text>
<text transform="translate(72 674.2) rotate(-90) scale(1 1.05)" font-size="66" text-anchor="middle">Commulative volume (%)</text>
</svg></body></html>
